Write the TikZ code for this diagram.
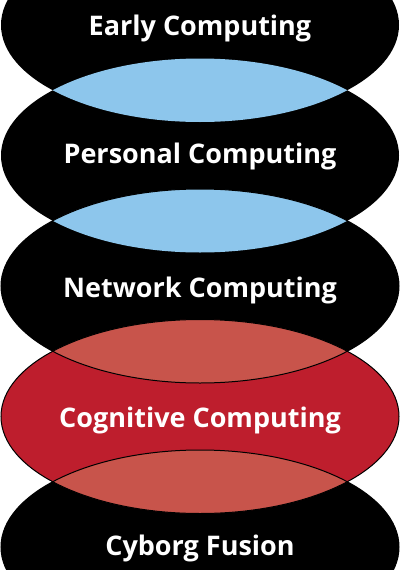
\documentclass[tikz,border=0pt]{standalone}
\usepackage{fontspec}
\setmainfont{Open Sans}
\definecolor{lensblue}{HTML}{8DC6EC}
\definecolor{bodyred}{HTML}{BE1E2D}
\definecolor{lensred}{HTML}{C8544B}
\begin{document}
\begin{tikzpicture}[x=1pt,y=-1pt,
  ell/.style={x radius=199,y radius=97},
  label/.style={text=white,font=\bfseries\fontsize{27}{32}\selectfont,inner sep=0pt,anchor=base},
  outline/.style={draw=black,line width=1pt}]
\useasboundingbox (0,0) rectangle (400,570);
\clip (0,0) rectangle (400,570);
% bodies
\fill[black] (200,25) ellipse [ell];
\fill[black] (200,155.5) ellipse [ell];
\fill[black] (200,286) ellipse [ell];
\fill[black] (200,547) ellipse [ell];
\fill[bodyred] (200,416.5) ellipse [ell];
% blue lenses
\begin{scope}
  \clip (200,25) ellipse [ell];
  \fill[lensblue] (200,155.5) ellipse [ell];
\end{scope}
\begin{scope}
  \clip (200,155.5) ellipse [ell];
  \fill[lensblue] (200,286) ellipse [ell];
\end{scope}
% red lenses
\begin{scope}
  \clip (200,286) ellipse [ell];
  \fill[lensred] (200,416.5) ellipse [ell];
\end{scope}
\begin{scope}
  \clip (200,416.5) ellipse [ell];
  \fill[lensred] (200,547) ellipse [ell];
\end{scope}
% outlines
\draw[outline] (200,286) ellipse [ell];
\draw[outline] (200,416.5) ellipse [ell];
\draw[outline] (200,547) ellipse [ell];
% labels
\node[label] (early) at (200,35) {Early Computing};
\node[label] (personal) at (200,163) {Personal Computing};
\node[label] (network) at (200,297) {Network Computing};
\node[label] (cognitive) at (200,427) {Cognitive Computing};
\node[label] (cyborg) at (200,555) {Cyborg Fusion};
\end{tikzpicture}
\end{document}
